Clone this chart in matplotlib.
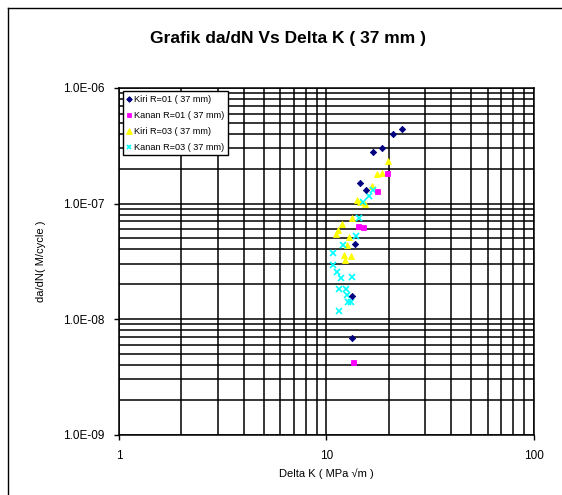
import matplotlib
matplotlib.use("Agg")
import matplotlib.pyplot as plt
from matplotlib.lines import Line2D
from matplotlib.ticker import FixedLocator, NullFormatter, FuncFormatter

plt.rcParams['font.family'] = ['Liberation Sans', 'DejaVu Sans']

title = "Grafik da/dN Vs Delta K ( 37 mm )"
xlabel = "Delta K ( MPa √m )"
ylabel = "da/dN( M/cycle )"

labels = ["Kiri R=01 ( 37 mm)", "Kanan R=01 ( 37 mm)",
          "Kiri R=03 ( 37 mm)", "Kanan R=03 ( 37 mm)"]

kiri1_dk = [23.3, 21.0, 18.6, 16.9, 14.55, 15.55, 13.8, 13.36, 13.27]
kiri1_dadn = [4.42e-7, 3.97e-7, 3.0e-7, 2.81e-7, 1.51e-7, 1.31e-7, 4.46e-8, 1.59e-8, 6.9e-9]

kanan1_dk = [19.6, 17.5, 14.3, 15.0, 13.5]
kanan1_dadn = [1.85e-7, 1.29e-7, 6.38e-8, 6.3e-8, 4.22e-9]

kiri3_dk = [19.8, 18.5, 17.6, 16.6, 14.0, 14.55, 15.3, 13.36, 11.9, 11.4, 11.14,
            12.9, 12.55, 12.18, 13.12, 12.32]
kiri3_dadn = [2.33e-7, 1.85e-7, 1.80e-7, 1.43e-7, 1.07e-7, 1.04e-7, 9.9e-8, 7.5e-8,
              6.6e-8, 5.9e-8, 5.41e-8, 5.1e-8, 4.37e-8, 3.58e-8, 3.53e-8, 3.24e-8]

kanan3_dk = [16.9, 16.1, 15.1, 14.4, 13.87, 12.0, 10.74, 10.74, 11.3, 11.74, 13.36,
             11.52, 12.45, 12.64, 12.7, 13.1, 11.52]
kanan3_dadn = [1.31e-7, 1.15e-7, 1.04e-7, 7.44e-8, 5.23e-8, 4.37e-8, 3.71e-8, 2.94e-8,
               2.54e-8, 2.25e-8, 2.32e-8, 1.82e-8, 1.82e-8, 1.61e-8, 1.40e-8, 1.40e-8, 1.17e-8]

xticks = [1, 10, 100]
yticks = [1e-9, 1e-8, 1e-7, 1e-6]

fig = plt.figure(figsize=(5.62, 4.95), dpi=100)
ax = fig.add_axes([119/562, 60.5/495, 414.5/562, 346.5/495])

ax.set_xscale('log')
ax.set_yscale('log')
ax.set_xlim(1, 100)
ax.set_ylim(1e-9, 1e-6)

ax.plot(kiri1_dk, kiri1_dadn, linestyle='none', marker='D', color='#000080',
        markersize=3.2, markeredgewidth=0.6, label=labels[0], zorder=5)
ax.plot(kanan1_dk, kanan1_dadn, linestyle='none', marker='s', color='#FF00FF',
        markersize=3.6, markeredgewidth=0.6, label=labels[1], zorder=4)
ax.plot(kiri3_dk, kiri3_dadn, linestyle='none', marker='^', color='#FFFF00',
        markersize=4.6, markeredgewidth=0.6, label=labels[2], zorder=3)
ax.plot(kanan3_dk, kanan3_dadn, linestyle='none', marker='x', color='#00FFFF',
        markersize=3.8, markeredgewidth=1.2, label=labels[3], zorder=3)

ax.xaxis.set_major_locator(FixedLocator(xticks))
ax.yaxis.set_major_locator(FixedLocator(yticks))
ax.xaxis.set_minor_locator(FixedLocator([2, 3, 4, 5, 6, 7, 8, 9, 20, 30, 40, 50, 60, 70, 80, 90]))
minor_y = [m * 10.0**e for e in (-9, -8, -7) for m in range(2, 10)]
ax.yaxis.set_minor_locator(FixedLocator(minor_y))
ax.xaxis.set_minor_formatter(NullFormatter())
ax.yaxis.set_minor_formatter(NullFormatter())
ax.xaxis.set_major_formatter(FuncFormatter(lambda v, p: f"{v:g}"))
ax.yaxis.set_major_formatter(FuncFormatter(lambda v, p: f"{v:.1E}"))

ax.grid(True, which='both', color='black', linewidth=1.1)
ax.set_axisbelow(True)
ax.tick_params(which='major', direction='out', length=3.5, width=1, labelsize=8.5, pad=7)
ax.tick_params(axis='x', which='major', pad=8)
ax.tick_params(which='minor', length=0)
for s in ax.spines.values():
    s.set_linewidth(1.1)

ax.set_xlabel(xlabel, fontsize=8, labelpad=4)
ax.set_ylabel(ylabel, fontsize=8, labelpad=12)

leg = ax.legend(loc='upper left', bbox_to_anchor=(0.009, 0.99), fontsize=6.6,
                frameon=True, fancybox=False, edgecolor='black', framealpha=1,
                handlelength=0.6, handletextpad=0.25, borderpad=0.4, labelspacing=0.75,
                markerscale=0.9, borderaxespad=0)
leg.get_frame().set_linewidth(1.0)

fig.text(288/562, 1 - 38/495, title, ha='center', va='center', fontsize=12.5,
         fontweight='bold')

# outer chart frame (left and top edges visible)
fig.add_artist(Line2D([7.5/562, 7.5/562], [0, 1 - 8/495], color='black', lw=1.0,
                      transform=fig.transFigure))
fig.add_artist(Line2D([7.5/562, 1], [1 - 8/495, 1 - 8/495], color='black', lw=1.0,
                      transform=fig.transFigure))

fig.savefig("out.png", dpi=100)
